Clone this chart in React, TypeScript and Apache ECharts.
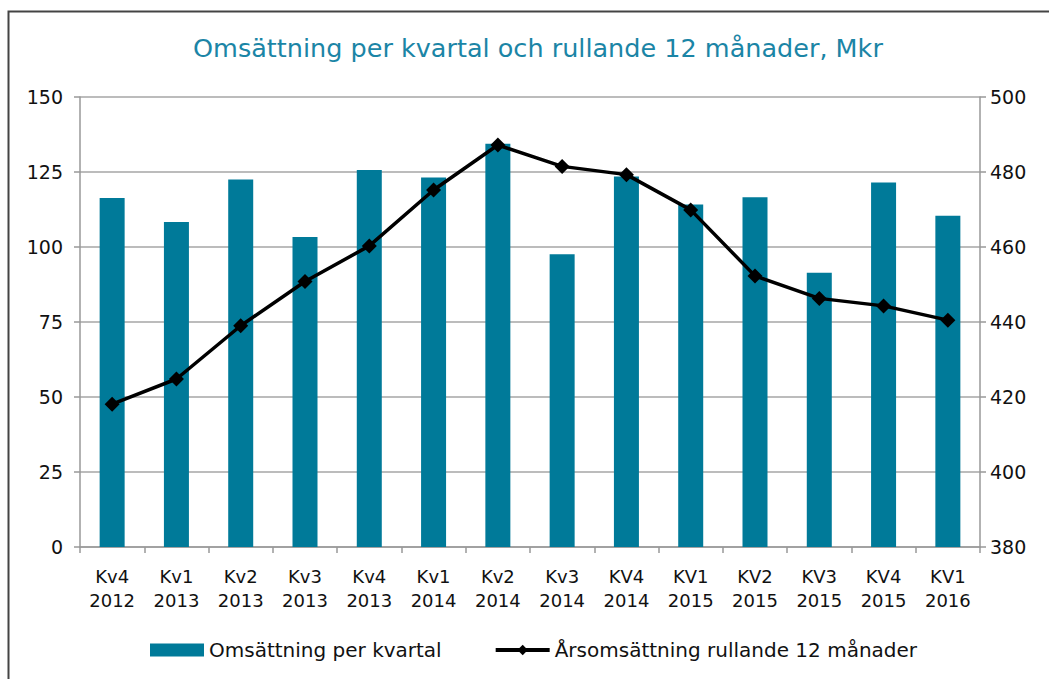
import React, { useEffect, useRef } from "react";
import * as echarts from "echarts";

const categories = [
  "Kv4\n2012", "Kv1\n2013", "Kv2\n2013", "Kv3\n2013", "Kv4\n2013", "Kv1\n2014", "Kv2\n2014",
  "Kv3\n2014", "KV4\n2014", "KV1\n2015", "KV2\n2015", "KV3\n2015", "KV4\n2015", "KV1\n2016",
];
const quarterly = [116.3, 108.3, 122.5, 103.3, 125.7, 123.2, 134.4, 97.6, 123.5, 114.2, 116.6, 91.4, 121.5, 110.4];
const rolling12 = [418.1, 424.8, 439.0, 450.8, 460.3, 475.2, 487.2, 481.5, 479.3, 469.9, 452.3, 446.3, 444.3, 440.5];
const leftTicks = { min: 0, max: 150, interval: 25 };
const rightTicks = { min: 380, max: 500, interval: 20 };

const FONT = "DejaVu Sans";

export default function App() {
  const ref = useRef<HTMLDivElement>(null);
  useEffect(() => {
    if (!ref.current) return;
    const chart = echarts.init(ref.current, null, { renderer: "svg" });
    chart.setOption({
      animation: false,
      backgroundColor: "#ffffff",
      textStyle: { fontFamily: FONT },
      title: {
        text: "Omsättning per kvartal och rullande 12 månader, Mkr",
        left: 188,
        top: 30,
        textStyle: { color: "#1B85A6", fontSize: 25.5, fontWeight: "normal", fontFamily: FONT },
      },
      graphic: [
        {
          type: "polyline",
          shape: { points: [[8.5, 700], [8.5, 11.5], [1060, 11.5]] },
          style: { stroke: "#444", lineWidth: 2, fill: null },
          silent: true,
        },
      ],
      legend: {
        bottom: 14,
        left: 145,
        itemGap: 52,
        textStyle: { fontSize: 20, color: "#111", fontFamily: FONT },
        data: [
          { name: "Omsättning per kvartal", icon: "rect" },
          { name: "Årsomsättning rullande 12 månader", lineStyle: { width: 4 } },
        ],
        itemWidth: 54,
        itemHeight: 13,
      },
      grid: { left: 80, right: 69, top: 97, bottom: 132, containLabel: false },
      xAxis: {
        type: "category",
        data: categories,
        boundaryGap: true,
        axisLine: { lineStyle: { color: "#999", width: 1.5 } },
        axisTick: { show: true, length: 6, lineStyle: { color: "#999", width: 1.5 } },
        axisLabel: { color: "#111", fontSize: 18, lineHeight: 24, margin: 17, interval: 0, fontFamily: FONT },
      },
      yAxis: [
        {
          type: "value",
          ...leftTicks,
          axisLine: { show: true, lineStyle: { color: "#999", width: 1.5 } },
          axisTick: { show: true, length: 6, lineStyle: { color: "#999", width: 1.5 } },
          splitLine: { show: true, lineStyle: { color: "#a6a6a6", width: 1.5 } },
          axisLabel: { color: "#111", fontSize: 19, margin: 17, fontFamily: FONT },
        },
        {
          type: "value",
          ...rightTicks,
          position: "right",
          axisLine: { show: true, lineStyle: { color: "#999", width: 1.5 } },
          axisTick: { show: true, length: 6, lineStyle: { color: "#999", width: 1.5 } },
          splitLine: { show: false },
          axisLabel: { color: "#111", fontSize: 19, margin: 10, fontFamily: FONT },
        },
      ],
      series: [
        {
          name: "Omsättning per kvartal",
          type: "bar",
          data: quarterly,
          yAxisIndex: 0,
          barWidth: 25,
          itemStyle: { color: "#007A99" },
        },
        {
          name: "Årsomsättning rullande 12 månader",
          type: "line",
          data: rolling12,
          yAxisIndex: 1,
          symbol: "diamond",
          symbolSize: 15,
          lineStyle: { color: "#000", width: 3.5 },
          itemStyle: { color: "#000" },
        },
      ],
    });
    return () => chart.dispose();
  }, []);
  return (
    <div
      ref={ref}
      style={{ position: "fixed", left: 0, top: 0, width: 1049, height: 679 }}
    />
  );
}
